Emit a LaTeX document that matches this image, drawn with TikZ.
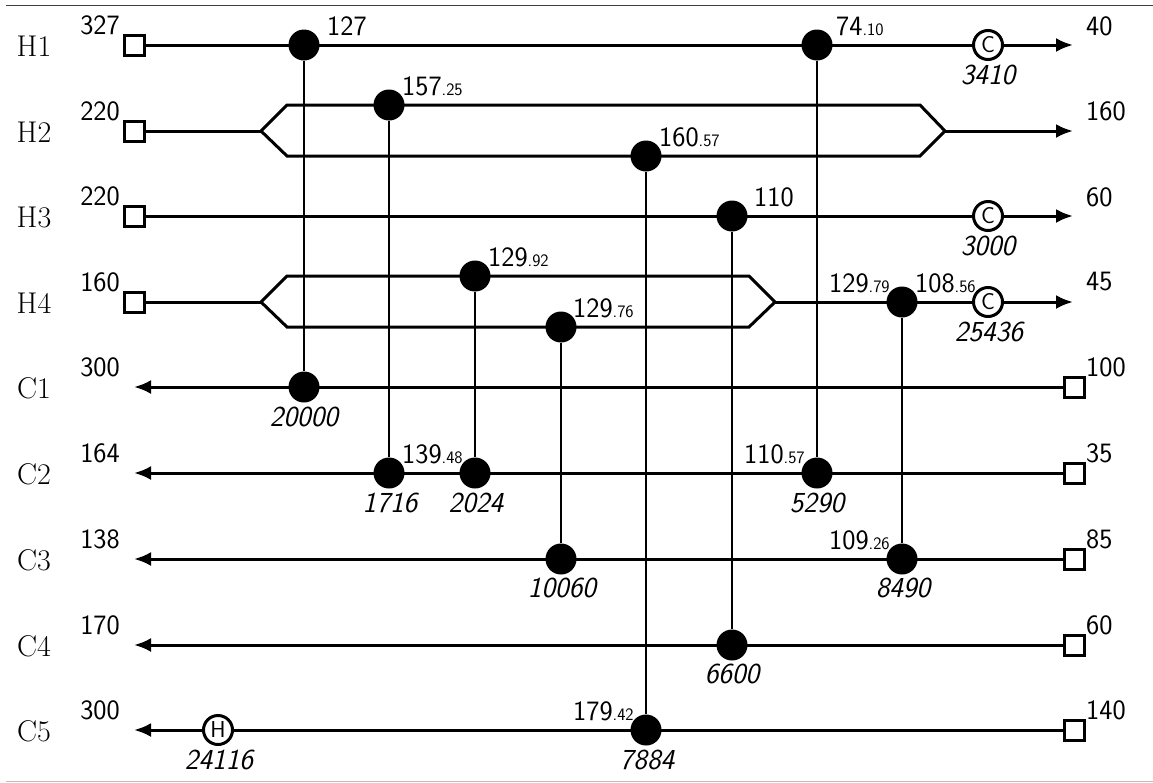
\documentclass[tikz,border=0pt]{standalone}
\usetikzlibrary{arrows.meta}
\usepackage{fontspec}
\newcommand{\sz}[1]{\fontsize{#1}{#1}\selectfont}
\newcommand{\subv}[1]{{\sz{17.5}#1}}
\tikzset{
  x=1pt,y=-1pt,
  stream/.style={line width=3pt,draw=black,line join=miter},
  hx/.style={line width=2.3pt,draw=black},
  tip/.style={-{Latex[length=17pt,width=14pt]}},
  dot/.style={circle,fill=black,draw=none,minimum size=31pt,inner sep=0pt},
  util/.style={circle,fill=white,draw=black,line width=3pt,minimum size=29pt,inner sep=0pt,font=\sffamily\sz{23}},
  port/.style={rectangle,fill=white,draw=black,line width=3pt,minimum size=20pt,inner sep=0pt},
  rowname/.style={font=\rmfamily\sz{30},inner sep=0pt},
  val/.style={font=\sffamily\sz{28},inner sep=0pt},
  duty/.style={font=\sffamily\itshape\sz{29},inner sep=0pt},
}
\begin{document}
\begin{tikzpicture}
\useasboundingbox (0,0) rectangle (1153,782);
\fill[white] (0,0) rectangle (1153,782);
% frame rules
\coordinate (ruleA) at (6,5.5); \coordinate (ruleB) at (1153,5.5);
\coordinate (ruleC) at (6,781); \coordinate (ruleD) at (1153,781);
\draw[line width=1pt,black!75] (ruleA) -- (ruleB);
\draw[line width=1pt,black!25] (ruleC) -- (ruleD);
% end points
\node[port] (h1s) at (134,45) {};
\node[port] (h2s) at (134,131) {};
\node[port] (h3s) at (134,216) {};
\node[port] (h4s) at (134,302) {};
\node[port] (c1s) at (1074,387) {};
\node[port] (c2s) at (1074,473) {};
\node[port] (c3s) at (1074,559) {};
\node[port] (c4s) at (1074,645) {};
\node[port] (c5s) at (1074,730) {};
\coordinate (h1e) at (1073,45);
\coordinate (h2e) at (1073,131);
\coordinate (h3e) at (1073,216);
\coordinate (h4e) at (1073,302);
\coordinate (c1e) at (134,387);
\coordinate (c2e) at (134,473);
\coordinate (c3e) at (134,559);
\coordinate (c4e) at (134,645);
\coordinate (c5e) at (134,730);
% split points
\coordinate (h2a) at (261,131); \coordinate (h2b) at (287,105); \coordinate (h2c) at (287,156);
\coordinate (h2d) at (920,105); \coordinate (h2f) at (920,156); \coordinate (h2g) at (945,131);
\coordinate (h4a) at (261,302); \coordinate (h4b) at (287,276); \coordinate (h4c) at (287,327);
\coordinate (h4d) at (749,276); \coordinate (h4f) at (749,327); \coordinate (h4g) at (775,302);
% streams
\draw[stream,tip] (h1s) -- (h1e);
\draw[stream] (h2s) -- (h2a);
\draw[stream] (h2g) -- (h2d) -- (h2b) -- (h2a) -- (h2c) -- (h2f) -- cycle;
\draw[stream,tip] (h2g) -- (h2e);
\draw[stream,tip] (h3s) -- (h3e);
\draw[stream] (h4s) -- (h4a);
\draw[stream] (h4g) -- (h4d) -- (h4b) -- (h4a) -- (h4c) -- (h4f) -- cycle;
\draw[stream,tip] (h4g) -- (h4e);
\draw[stream,tip] (c1s) -- (c1e);
\draw[stream,tip] (c2s) -- (c2e);
\draw[stream,tip] (c3s) -- (c3e);
\draw[stream,tip] (c4s) -- (c4e);
\draw[stream,tip] (c5s) -- (c5e);
% exchanger ends
\node[dot] (a1) at (304,45) {};    \node[dot] (a2) at (304,387) {};
\node[dot] (b1) at (389,105) {};   \node[dot] (b2) at (389,473) {};
\node[dot] (c1) at (475,276) {};   \node[dot] (c2) at (475,473) {};
\node[dot] (d1) at (561,327) {};   \node[dot] (d2) at (561,559) {};
\node[dot] (e1) at (646,156) {};   \node[dot] (e2) at (646,730) {};
\node[dot] (f1) at (732,216) {};   \node[dot] (f2) at (732,645) {};
\node[dot] (g1) at (817,45) {};    \node[dot] (g2) at (817,473) {};
\node[dot] (i1) at (902,302) {};   \node[dot] (i2) at (902,559) {};
\foreach \p/\q in {a1/a2,b1/b2,c1/c2,d1/d2,e1/e2,f1/f2,g1/g2,i1/i2}
  \draw[hx] (\p) -- (\q);
% utilities
\node[util] (u1) at (988,45) {C};
\node[util] (u2) at (988,216) {C};
\node[util] (u3) at (988,302) {C};
\node[util] (u4) at (218,730) {H};
% row names
\node[rowname] (n1) at (34,46) {H1};
\node[rowname] (n2) at (34,132) {H2};
\node[rowname] (n3) at (34,217) {H3};
\node[rowname] (n4) at (34,303) {H4};
\node[rowname] (n5) at (34,388) {C1};
\node[rowname] (n6) at (34,474) {C2};
\node[rowname] (n7) at (34,560) {C3};
\node[rowname] (n8) at (34,646) {C4};
\node[rowname] (n9) at (34,731) {C5};
% left values
\node[val] (l1) at (100,25) {327};
\node[val] (l2) at (100,111) {220};
\node[val] (l3) at (100,196) {220};
\node[val] (l4) at (100,282) {160};
\node[val] (l5) at (100,367) {300};
\node[val] (l6) at (100,453) {164};
\node[val] (l7) at (100,539) {138};
\node[val] (l8) at (100,625) {170};
\node[val] (l9) at (100,710) {300};
% right values
\node[val,anchor=west] (r1) at (1086,26) {40};
\node[val,anchor=west] (r2) at (1086,111) {160};
\node[val,anchor=west] (r3) at (1086,197) {60};
\node[val,anchor=west] (r4) at (1086,282) {45};
\node[val,anchor=west] (r5) at (1086,367) {100};
\node[val,anchor=west] (r6) at (1086,453) {35};
\node[val,anchor=west] (r7) at (1086,539) {85};
\node[val,anchor=west] (r8) at (1086,625) {60};
\node[val,anchor=west] (r9) at (1086,710) {140};
% temperatures
\node[val,anchor=base west] (t1) at (327,35) {127};
\node[val,anchor=base west] (t2) at (402,95) {157\subv{.25}};
\node[val,anchor=base west] (t3) at (488,266) {129\subv{.92}};
\node[val,anchor=base west] (t4) at (573,317) {129\subv{.76}};
\node[val,anchor=base west] (t5) at (659,146) {160\subv{.57}};
\node[val,anchor=base west] (t6) at (754,206) {110};
\node[val,anchor=base west] (t7) at (836,35) {74\subv{.10}};
\node[val,anchor=base west] (t8) at (829,292) {129\subv{.79}};
\node[val,anchor=base west] (t9) at (915,292) {108\subv{.56}};
\node[val,anchor=base west] (t10) at (402,463) {139\subv{.48}};
\node[val,anchor=base west] (t11) at (744,463) {110\subv{.57}};
\node[val,anchor=base west] (t12) at (829,549) {109\subv{.26}};
\node[val,anchor=base west] (t13) at (573,720) {179\subv{.42}};
% duties
\node[duty] (q1) at (988,75) {3410};
\node[duty] (q2) at (988,246) {3000};
\node[duty] (q3) at (989,332) {25436};
\node[duty] (q4) at (304,417) {20000};
\node[duty] (q5) at (390,503) {1716};
\node[duty] (q6) at (476,503) {2024};
\node[duty] (q7) at (562,588) {10060};
\node[duty] (q8) at (817,503) {5290};
\node[duty] (q9) at (903,588) {8490};
\node[duty] (q10) at (732,674) {6600};
\node[duty] (q11) at (647,760) {7884};
\node[duty] (q12) at (219,760) {24116};
\end{tikzpicture}
\end{document}
